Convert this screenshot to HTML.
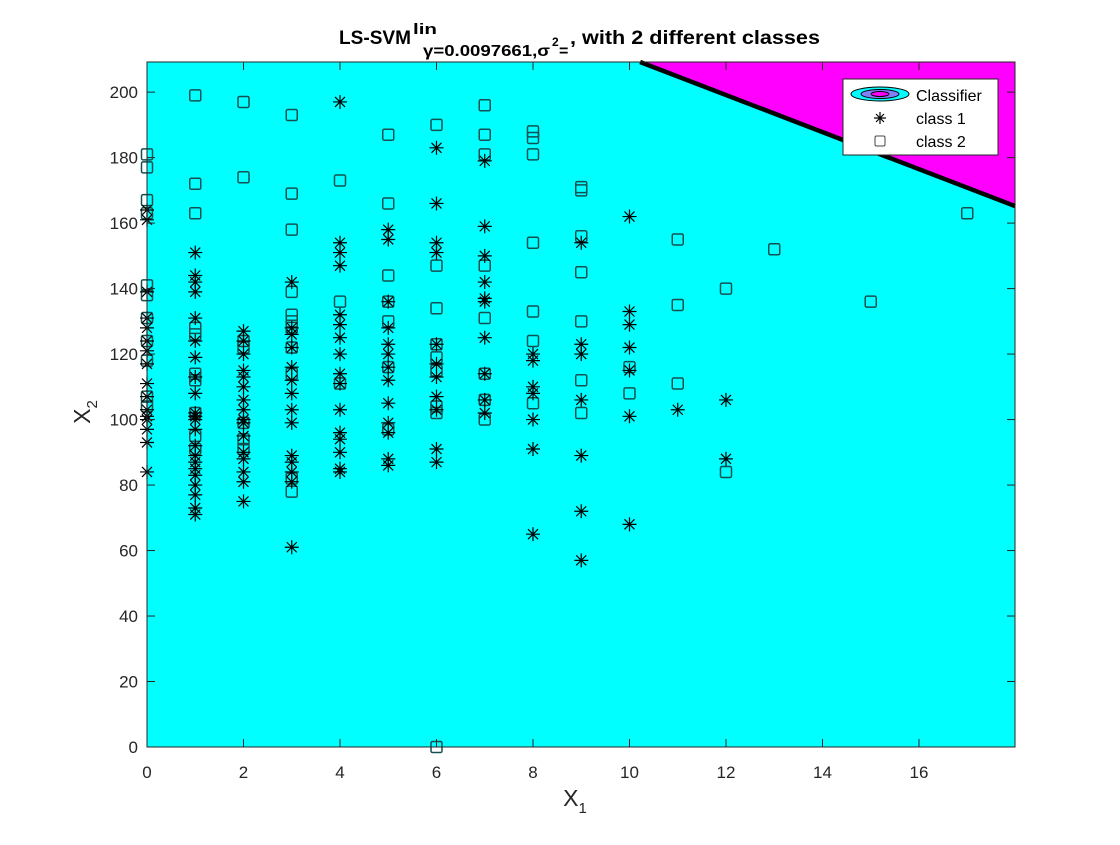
<!DOCTYPE html>
<html><head><meta charset="utf-8"><style>
body{margin:0;background:#fff;width:1120px;height:840px;overflow:hidden}
svg{font-family:"Liberation Sans",sans-serif}
</style></head><body>
<svg id="chart" width="1120" height="840" xmlns="http://www.w3.org/2000/svg"></svg>
<script>
const xTicks=[0,2,4,6,8,10,12,14,16];
const yTicks=[0,20,40,60,80,100,120,140,160,180,200];
const xMax=17.99, yMax=209.2;
const boundaryX=[10.22,17.99];
const boundaryY=[209.2,165.2];
const class1X=[0,0,0,0,0,0,0,0,0,0,0,0,0,0,0,0,
1,1,1,1,1,1,1,1,1,1,1,1,1,1,1,1,1,1,1,1,1,1,
2,2,2,2,2,2,2,2,2,2,2,2,2,2,2,2,
3,3,3,3,3,3,3,3,3,3,3,3,3,3,
4,4,4,4,4,4,4,4,4,4,4,4,4,4,4,4,
5,5,5,5,5,5,5,5,5,5,5,5,5,
6,6,6,6,6,6,6,6,6,6,6,
7,7,7,7,7,7,7,7,7,7,
8,8,8,8,8,8,8,
9,9,9,9,9,9,9,
10,10,10,10,10,10,10,
11,12,12];
const class1Y=[161,164,139,131,128,124,121,117,111,107,103,101,100,97,93,84,
151,144,142,139,131,124,119,113,108,102,101,100,97,92,89,87,85,83,80,77,73,71,
127,124,120,115,113,110,106,103,100,99,95,90,88,84,81,75,
142,128,126,122,116,112,108,103,99,89,87,84,81,61,
197,154,151,147,132,129,125,120,114,111,103,96,94,90,85,84,
158,155,136,128,123,120,116,112,105,99,96,88,86,
183,166,154,151,123,117,113,107,103,91,87,
179,159,150,142,137,136,125,114,106,102,
120,118,110,108,100,91,65,
154,123,120,106,89,72,57,
162,133,129,122,115,101,68,
103,106,88];
const class2X=[0,0,0,0,0,0,0,0,0,0,0,
1,1,1,1,1,1,1,1,1,1,
2,2,2,2,2,2,2,
3,3,3,3,3,3,3,3,3,3,3,
4,4,4,
5,5,5,5,5,5,5,
6,6,6,6,6,6,6,6,6,
7,7,7,7,7,7,7,7,
8,8,8,8,8,8,8,
9,9,9,9,9,9,9,
10,10,11,11,11,12,12,13,15,17];
const class2Y=[181,177,167,163,141,138,131,124,118,107,104,
199,172,163,128,126,114,112,102,95,91,
197,174,124,122,99,94,91,
193,169,158,139,132,130,128,122,114,82,78,
173,136,111,
187,166,144,136,130,116,97,
190,147,134,123,119,115,104,102,0,
196,187,181,147,131,114,106,100,
188,186,181,154,133,124,105,
171,170,156,145,130,112,102,
116,108,155,135,111,140,84,152,136,163];

const L=147,R=1015,T=62,B=747;
const sx=v=>L+v/xMax*(R-L);
const sy=v=>B-v/yMax*(B-T);
const svg=document.getElementById('chart');
const NS='http://www.w3.org/2000/svg';
function mk(tag,attrs,parent){const e=document.createElementNS(NS,tag);for(const k in attrs)e.setAttribute(k,attrs[k]);(parent||svg).appendChild(e);return e;}

let e=mk('rect',{x:L,y:T,width:R-L,height:B-T,fill:'#00ffff'});


const pts=[[sx(boundaryX[0]),sy(boundaryY[0])],[sx(boundaryX[1]),sy(boundaryY[1])],[R,T]];
e=mk('polygon',{points:pts.map(p=>p.join(',')).join(' '),fill:'#ff00ff'});


e=mk('line',{x1:sx(boundaryX[0]),y1:sy(boundaryY[0]),x2:sx(boundaryX[1]),y2:sy(boundaryY[1]),stroke:'#000','stroke-width':4.5});



const g2=mk('g',{fill:'none',stroke:'#145050','stroke-width':1.5});


for(let i=0;i<class2X.length;i++){
 const x=sx(class2X[i]),y=sy(class2Y[i]);
 e=mk('rect',{x:x-5.5,y:y-5.5,width:11,height:11,rx:1.5},g2);
 
 
}
const g1=mk('g',{stroke:'#000','stroke-width':1.2});


for(let i=0;i<class1X.length;i++){
 const x=sx(class1X[i]),y=sy(class1Y[i]),r=7,d=5;
 e=mk('path',{d:`M${x-r},${y}H${x+r}M${x},${y-r}V${y+r}M${x-d},${y-d}L${x+d},${y+d}M${x-d},${y+d}L${x+d},${y-d}`},g1);
 
 
}
e=mk('rect',{x:L,y:T,width:R-L,height:B-T,fill:'none',stroke:'#262626','stroke-width':1});


xTicks.forEach(t=>{const x=sx(t);
 mk('line',{x1:x,y1:B,x2:x,y2:B-8,stroke:'#262626'});mk('line',{x1:x,y1:T,x2:x,y2:T+8,stroke:'#262626'});
 e=mk('text',{x:x,y:B+31,'text-anchor':'middle','font-size':17,fill:'#262626'});e.textContent=t;
 
 
});
yTicks.forEach(t=>{const y=sy(t);
 mk('line',{x1:L,y1:y,x2:L+8,y2:y,stroke:'#262626'});mk('line',{x1:R,y1:y,x2:R-8,y2:y,stroke:'#262626'});
 e=mk('text',{x:L-9,y:y+6,'text-anchor':'end','font-size':17,fill:'#262626'});e.textContent=t;
 
 
});
</script>
<svg width="1120" height="840" style="position:absolute;left:0;top:0" xmlns="http://www.w3.org/2000/svg" font-family="Liberation Sans, sans-serif">
<text x="575" y="806" text-anchor="middle" font-size="23" fill="#262626">X<tspan font-size="15" dy="7">1</tspan></text>
<text transform="translate(90,412) rotate(-90)" text-anchor="middle" font-size="23" fill="#262626">X<tspan font-size="15" dy="7">2</tspan></text>
<g font-weight="bold" fill="#000">
<text x="339" y="44" font-size="19" textLength="72" lengthAdjust="spacingAndGlyphs">LS-SVM</text>
<text x="413" y="34" font-size="15" textLength="24" lengthAdjust="spacingAndGlyphs">lin</text>
<text x="423" y="56" font-size="16" textLength="127" lengthAdjust="spacingAndGlyphs">γ=0.0097661,σ</text>
<text x="552" y="46" font-size="12">2</text>
<text x="559" y="56" font-size="16">=</text>
<text x="570" y="44" font-size="19" textLength="250" lengthAdjust="spacingAndGlyphs">, with 2 different classes</text>
</g>
<g>
<rect x="843" y="79" width="155" height="76" fill="#fff" stroke="#262626"/>
<ellipse cx="880" cy="94" rx="29" ry="7" fill="#00ffff" stroke="#000"/>
<ellipse cx="880" cy="94" rx="19" ry="4.5" fill="#8080ff" stroke="#000"/>
<ellipse cx="880" cy="94" rx="9" ry="2.5" fill="#ff00ff" stroke="#000"/>
<text x="916" y="101" font-size="16" fill="#000">Classifier</text>
<path d="M874,118h12M880,112v12M876,114l8,8M876,122l8,-8" stroke="#000" stroke-width="1.2"/>
<text x="916" y="124" font-size="16" fill="#000">class 1</text>
<rect x="875" y="136" width="10" height="10" rx="1.5" fill="none" stroke="#444"/>
<text x="916" y="147" font-size="16" fill="#000">class 2</text>
</g>
</svg>
</body></html>
